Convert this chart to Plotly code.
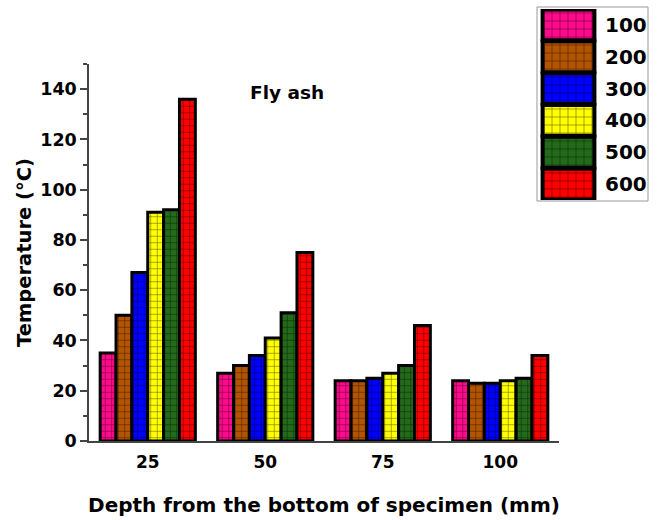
import plotly.graph_objects as go

# Depth positions (mm) and heating temperatures for each series
depths = ["25", "50", "75", "100"]
series_names = ["100", "200", "300", "400", "500", "600"]
series_colors = ["#FF0A8C", "#B35400", "#0000FF", "#FFFF00", "#236B1A", "#FF0000"]

temp_100 = [35, 27, 24, 24]
temp_200 = [50, 30, 24, 23]
temp_300 = [67, 34, 25, 23]
temp_400 = [91, 41, 27, 24]
temp_500 = [92, 51, 30, 25]
temp_600 = [136, 75, 46, 34]
series_values = [temp_100, temp_200, temp_300, temp_400, temp_500, temp_600]

# unit length used for the swatches in the custom key
key_length = [1]

FONT = "DejaVu Sans"

fig = go.Figure()

for name, color, vals in zip(series_names, series_colors, series_values):
    fig.add_trace(go.Bar(
        x=depths, y=vals, name=name, showlegend=False,
        marker=dict(
            color=color,
            line=dict(color="black", width=3),
            pattern=dict(shape="+", size=6.5, solidity=0.18,
                         fgcolor="black", fgopacity=0.55),
        ),
        xaxis="x", yaxis="y",
    ))

# Key drawn as a small bar panel with large patterned swatches
for name, color in zip(series_names, series_colors):
    fig.add_trace(go.Bar(
        x=key_length, y=[name], orientation="h", showlegend=False,
        marker=dict(
            color=color,
            line=dict(color="black", width=4),
            pattern=dict(shape="+", size=8, solidity=0.14,
                         fgcolor="black", fgopacity=0.6),
        ),
        xaxis="x2", yaxis="y2", hoverinfo="skip",
    ))

W, H = 660, 520
ml, mr, mt, mb = 89, 11, 6, 79
pw, ph = W - ml - mr, H - mt - mb

def px_x(x):
    return (x - ml) / pw

def px_y(y):
    return (H - mb - y) / ph

axis_color = "#444444"

fig.update_layout(
    width=W, height=H,
    margin=dict(l=ml, r=mr, t=mt, b=mb),
    paper_bgcolor="white", plot_bgcolor="white",
    barmode="group", bargap=0.19, bargroupgap=0,
    font=dict(family=FONT, color="black"),
    xaxis=dict(
        domain=[0, px_x(559)],
        type="category", range=[-0.5, 3.5],
        showline=True, linecolor=axis_color, linewidth=1.5,
        ticks="", showgrid=False, zeroline=False,
        tickfont=dict(family=FONT, size=17, weight="bold"),
        ticklabelstandoff=5,
        title=dict(text="Depth from the bottom of specimen (mm)",
                   font=dict(family=FONT, size=20, weight="bold"),
                   standoff=27),
    ),
    yaxis=dict(
        domain=[0, px_y(64)],
        range=[0, 150],
        tickvals=[0, 20, 40, 60, 80, 100, 120, 140],
        showline=True, linecolor=axis_color, linewidth=1.5,
        ticks="outside", ticklen=7, tickwidth=1.5, tickcolor=axis_color,
        minor=dict(dtick=10, tick0=10, ticks="outside", ticklen=4,
                   tickwidth=1.5, tickcolor=axis_color),
        showgrid=False, zeroline=False,
        tickfont=dict(family=FONT, size=17.5, weight="bold"),
        title=dict(text="Temperature (°C)",
                   font=dict(family=FONT, size=19.5, weight="bold"),
                   standoff=3),
    ),
    xaxis2=dict(
        domain=[px_x(540), px_x(597)],
        anchor="y2", range=[-0.05, 1.05],
        visible=False, fixedrange=True,
    ),
    yaxis2=dict(
        domain=[px_y(200), px_y(9)],
        anchor="x2", type="category", autorange="reversed",
        side="right", showline=False, showgrid=False, zeroline=False,
        ticks="", ticklabelstandoff=7,
        tickfont=dict(family=FONT, size=20, weight="bold"),
        fixedrange=True,
    ),
    annotations=[dict(
        text="Fly ash", xref="paper", yref="paper",
        x=px_x(287), y=px_y(92), xanchor="center", yanchor="middle",
        showarrow=False, font=dict(family=FONT, size=18.5, weight="bold"),
    )],
    shapes=[dict(
        type="rect", xref="paper", yref="paper",
        x0=px_x(537), x1=px_x(648), y0=px_y(201), y1=px_y(7),
        line=dict(color="#999999", width=1), fillcolor="rgba(0,0,0,0)",
        layer="below",
    )],
)

# bars in the key sit flush against each other
fig.update_traces(selector=dict(xaxis="x2"), width=0.97)

fig.write_html("out.html")
